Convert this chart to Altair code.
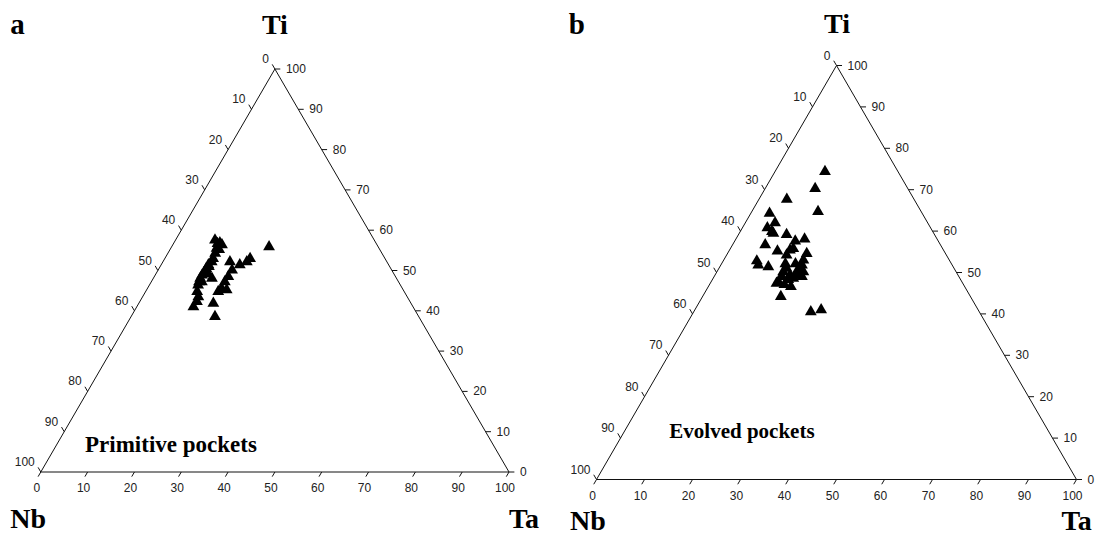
import altair as alt
import pandas as pd

# ---------------- data (percent) : Nb = 100 - Ta - Ti ----------------
# Panel a: Primitive pockets
a_ta = [8.2, 9.2, 9.6, 9.6, 9.9, 10.1, 10.2, 9.9, 9.9, 9.9,
        9.8, 9.8, 10.0, 10.2, 12.3, 14.1, 16.6, 18.0, 17.7, 15.6,
        15.6, 15.5, 15.6, 15.3, 16.9, 11.7, 12.0, 11.9, 15.7, 17.7,
        20.6, 10.3, 10.3, 10.6, 10.8, 10.9, 10.2]
a_ti = [58.0, 57.1, 57.3, 55.9, 54.7, 53.4, 52.6, 51.8, 50.9, 50.1,
        49.3, 48.5, 47.6, 46.8, 48.5, 52.6, 51.8, 53.4, 52.6, 50.5,
        48.9, 47.6, 46.0, 45.2, 45.6, 43.9, 42.7, 41.4, 42.3, 39.0,
        56.3, 56.8, 55.6, 47.6, 45.2, 49.6, 51.4]

# Panel b: Evolved pockets
b_ta = [10.2, 10.2, 5.6, 13.6, 3.7, 6.0, 5.0, 6.4, 6.9, 9.8,
        6.6, 12.4, 14.1, 12.9, 12.4, 9.9, 12.3, 16.3, 6.8, 7.6,
        9.9, 16.4, 16.7, 16.7, 16.4, 17.1, 17.8, 13.9, 13.6, 13.9,
        15.4, 13.8, 13.6, 16.5, 18.1, 17.0, 16.1, 24.2, 26.1, 13.1,
        15.2, 15.6, 15.4]
b_ti = [74.8, 70.7, 68.1, 65.1, 64.7, 62.4, 61.2, 60.3, 59.9, 59.6,
        57.1, 58.0, 58.5, 56.2, 55.8, 55.6, 54.6, 55.0, 53.2, 52.2,
        51.8, 53.4, 52.2, 51.4, 50.6, 49.8, 50.6, 51.4, 50.6, 49.4,
        49.8, 48.2, 47.8, 49.0, 49.4, 47.0, 44.6, 40.9, 41.4, 52.5,
        52.5, 48.7, 47.5]

tick_values = list(range(0, 101, 10))

# ---------------- layout ----------------
W, H = 1087, 529
OX, OY = 8, 8


def domains(nb_px, ta_px, base_py, apex_py):
    ux = (ta_px - nb_px) / 100.0
    uy = (base_py - apex_py) / 100.0
    x0 = (OX - nb_px) / ux
    y0 = (base_py - (OY + H)) / uy
    return [x0, x0 + W / ux], [y0, y0 + H / uy]


def panel(ta, ti, xdom, ydom, letter, note, note_pos, note_size,
          lab_pos):
    xs = alt.Scale(domain=xdom, nice=False, zero=False)
    ys = alt.Scale(domain=ydom, nice=False, zero=False)
    X = alt.X("X:Q", scale=xs, axis=None)
    Y = alt.Y("Y:Q", scale=ys, axis=None)

    pts = pd.DataFrame({"Ta": ta, "Ti": ti})
    pts["Nb"] = 100 - pts["Ta"] - pts["Ti"]
    pts["X"] = pts["Ta"] + pts["Ti"] / 2.0
    pts["Y"] = pts["Ti"]

    edges = pd.DataFrame({"X": [0, 100, 50, 0], "Y": [0, 0, 100, 0],
                          "o": [0, 1, 2, 3]})
    edge = alt.Chart(edges).mark_line(color="#111", strokeWidth=1).encode(
        x=X, y=Y, order="o:O")

    t = 1.15
    rows = []
    for v in tick_values:
        # bottom (Ta)
        rows.append({"X": v, "Y": 0, "X2": v - 0.5 * t, "Y2": -t})
        # right (Ti)
        rows.append({"X": 100 - v / 2.0, "Y": v, "X2": 100 - v / 2.0 + t, "Y2": v})
        # left (Nb)
        rows.append({"X": (100 - v) / 2.0, "Y": 100 - v,
                     "X2": (100 - v) / 2.0 - 0.5 * t, "Y2": 100 - v + t})
    ticks = alt.Chart(pd.DataFrame(rows)).mark_rule(
        color="#111", strokeWidth=1).encode(x=X, y=Y, x2="X2:Q", y2="Y2:Q")

    bot = pd.DataFrame({"X": tick_values, "Y": [0] * 11,
                        "t": [str(v) for v in tick_values]})
    rgt = pd.DataFrame({"X": [100 - v / 2.0 for v in tick_values],
                        "Y": tick_values, "t": [str(v) for v in tick_values]})
    lft = pd.DataFrame({"X": [(100 - v) / 2.0 for v in tick_values],
                        "Y": [100 - v for v in tick_values],
                        "t": [str(v) for v in tick_values]})
    tf = dict(font="Liberation Sans", fontSize=12, color="#222")
    bl = alt.Chart(bot).mark_text(align="center", baseline="middle",
                                  dx=-4, dy=16, **tf).encode(x=X, y=Y, text="t:N")
    rl = alt.Chart(rgt).mark_text(align="left", baseline="middle",
                                  dx=11, dy=0, **tf).encode(x=X, y=Y, text="t:N")
    ll = alt.Chart(lft).mark_text(align="right", baseline="middle",
                                  dx=-6, dy=-10, **tf).encode(x=X, y=Y, text="t:N")

    sf = dict(font="Liberation Serif", fontWeight="bold", color="black")
    (lx, ly), (tix, tiy), (nbx, nby), (tax, tay) = lab_pos
    big = pd.DataFrame({"X": [lx], "Y": [ly], "t": [letter]})
    big_l = alt.Chart(big).mark_text(align="left", baseline="alphabetic",
                                     fontSize=29, **sf).encode(x=X, y=Y, text="t:N")
    ti_df = pd.DataFrame({"X": [tix], "Y": [tiy], "t": ["Ti"]})
    ti_l = alt.Chart(ti_df).mark_text(align="center", baseline="alphabetic",
                                      fontSize=28, **sf).encode(x=X, y=Y, text="t:N")
    corner = pd.DataFrame({"X": [nbx, tax], "Y": [nby, tay], "t": ["Nb", "Ta"]})
    corner_l = alt.Chart(corner).mark_text(align="left", baseline="alphabetic",
                                           fontSize=28, **sf).encode(x=X, y=Y, text="t:N")
    nt = pd.DataFrame({"X": [note_pos[0]], "Y": [note_pos[1]], "t": [note]})
    note_l = alt.Chart(nt).mark_text(align="center", baseline="alphabetic",
                                     fontSize=note_size, **sf).encode(x=X, y=Y, text="t:N")

    marks = alt.Chart(pts).mark_point(shape="triangle-up", filled=True,
                                      size=140, color="black", opacity=1).encode(
        x=X, y=Y, tooltip=["Nb:Q", "Ta:Q", "Ti:Q"])

    return alt.layer(edge, ticks, bl, rl, ll, big_l, ti_l, corner_l, note_l, marks)


ax_dom, ay_dom = domains(40.8, 509.0, 472.0, 69.0)
bx_dom, by_dom = domains(596.5, 1076.5, 479.5, 65.5)

pa = panel(a_ta, a_ti, ax_dom, ay_dom, "a", "Primitive pockets", (27.8, 5.0), 23,
           [(-6.5, 108.6), (50, 108.8), (-6.5, -13.9), (100, -13.9)])
pb = panel(b_ta, b_ti, bx_dom, by_dom, "b", "Evolved pockets", (30.3, 10.0), 21,
           [(-5.8, 107.7), (50.1, 107.8), (-5.5, -12.2), (96.9, -12.2)])

chart = alt.layer(pa, pb).resolve_scale(x="independent", y="independent").properties(
    width=W, height=H, padding=0,
    autosize=alt.AutoSizeParams(type="none"),
    background="white",
).configure_view(stroke=None)

chart.save("out.html", embed_options={"renderer": "svg", "actions": False})
